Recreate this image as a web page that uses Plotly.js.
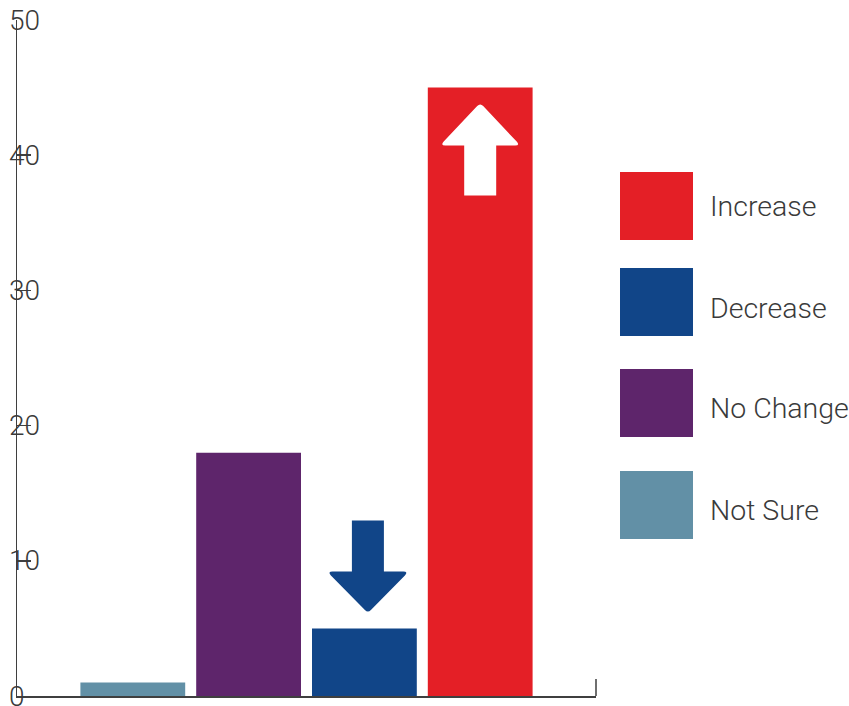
<!DOCTYPE html>
<html>
<head>
<meta charset="utf-8">
<script src="https://cdn.plot.ly/plotly-3.0.1.min.js"></script>
<style>html,body{margin:0;padding:0;background:#fff;}#chart{width:849px;height:706px;}</style>
</head>
<body>
<div id="chart"></div>
<script>
// ---- data ----
const categories = ["Not Sure", "No Change", "Decrease", "Increase"];
const values = [1, 18, 5, 45];
const colors = ["#6290a6", "#5e256b", "#114588", "#e41f26"];
const legendOrder = ["Increase", "Decrease", "No Change", "Not Sure"];
const yTickVals = [0, 10, 20, 30, 40, 50];
const yTickText = ["0", "10", "20", "30", "40", "50"];

// ---- layout geometry (pixels) ----
const W = 849, H = 706;
const M = {l: 17, r: 253, t: 20, b: 10};
const plotW = W - M.l - M.r, plotH = H - M.t - M.b;
const px2x = px => (px - M.l) / plotW;
const py2y = py => (H - M.b - py) / plotH;
const textColor = "#3a3a3a";
const axisColor = "#3f3f3f";
const font = {family: "Roboto, 'Open Sans', sans-serif", size: 28, color: textColor, weight: 300};
const legendFont = Object.assign({}, font, {size: 28.5});

const trace = {
  type: "bar",
  x: categories,
  y: values,
  marker: {color: colors, line: {width: 0}},
  hovertemplate: "%{x}: %{y}<extra></extra>",
  showlegend: false
};

const shapes = [];
const annotations = [];

// right-end tick of x axis
shapes.push({type: "line", xref: "paper", yref: "paper", x0: 1, x1: 1, y0: 0, y1: py2y(679),
  line: {color: axisColor, width: 1.5}});

// y tick labels (left-aligned, overlapping the axis as in the original)
yTickVals.forEach((v, k) => {
  annotations.push({xref: "paper", yref: "y", x: px2x(8), y: v, xanchor: "left", yanchor: "middle",
    showarrow: false, text: yTickText[k], font: font, borderpad: 0});
});

// arrows (pixel-sized, anchored at bar tops)
const upArrow = "M -16 -108 L 16 -108 L 16 -58 L 35 -58 Q 40 -58 36.5 -54 L 3 -18.5 Q 0 -15.5 -3 -18.5 L -36.5 -54 Q -40 -58 -35 -58 L -16 -58 Z";
const downArrow = "M -12.5 108 L 19.5 108 L 19.5 57 L 39 57 Q 44 57 40.5 53 L 6.5 18.5 Q 3.5 15.5 0.5 18.5 L -33.5 53 Q -37 57 -32 57 L -12.5 57 Z";
const iInc = categories.indexOf("Increase");
const iDec = categories.indexOf("Decrease");
shapes.push({type: "path", xref: "x", yref: "y", xsizemode: "pixel", ysizemode: "pixel",
  xanchor: categories[iInc], yanchor: values[iInc], path: upArrow,
  fillcolor: "#ffffff", line: {width: 0}, layer: "above"});
shapes.push({type: "path", xref: "x", yref: "y", xsizemode: "pixel", ysizemode: "pixel",
  xanchor: categories[iDec], yanchor: values[iDec], path: downArrow,
  fillcolor: colors[iDec], line: {width: 0}, layer: "above"});

// custom legend
const swatchTop = [172, 268, 369, 471];
const textMid = [206, 308, 408, 510];
legendOrder.forEach((name, k) => {
  const i = categories.indexOf(name);
  shapes.push({type: "rect", xref: "paper", yref: "paper",
    x0: px2x(620), x1: px2x(693), y0: py2y(swatchTop[k] + 68), y1: py2y(swatchTop[k]),
    fillcolor: colors[i], line: {width: 0}});
  annotations.push({xref: "paper", yref: "paper", x: px2x(708), y: py2y(textMid[k] + 0.5),
    xanchor: "left", yanchor: "middle", showarrow: false, text: name, font: legendFont});
});

const layout = {
  width: W, height: H,
  margin: M,
  paper_bgcolor: "#ffffff", plot_bgcolor: "#ffffff",
  bargap: 0.095,
  font: font,
  xaxis: {type: "category", range: [-1, 4], showticklabels: false, ticks: "",
    showline: true, linecolor: axisColor, linewidth: 1.5, showgrid: false, zeroline: false, fixedrange: true},
  yaxis: {range: [0, 50], tickvals: yTickVals, ticks: "inside", ticklen: 14,
    tickcolor: axisColor, tickwidth: 1.5, showline: true, linecolor: axisColor, linewidth: 1.5,
    showgrid: false, zeroline: false, showticklabels: false, fixedrange: true},
  shapes: shapes,
  annotations: annotations,
  showlegend: false
};

Plotly.newPlot("chart", [trace], layout, {displayModeBar: false, staticPlot: true});
</script>
</body>
</html>
